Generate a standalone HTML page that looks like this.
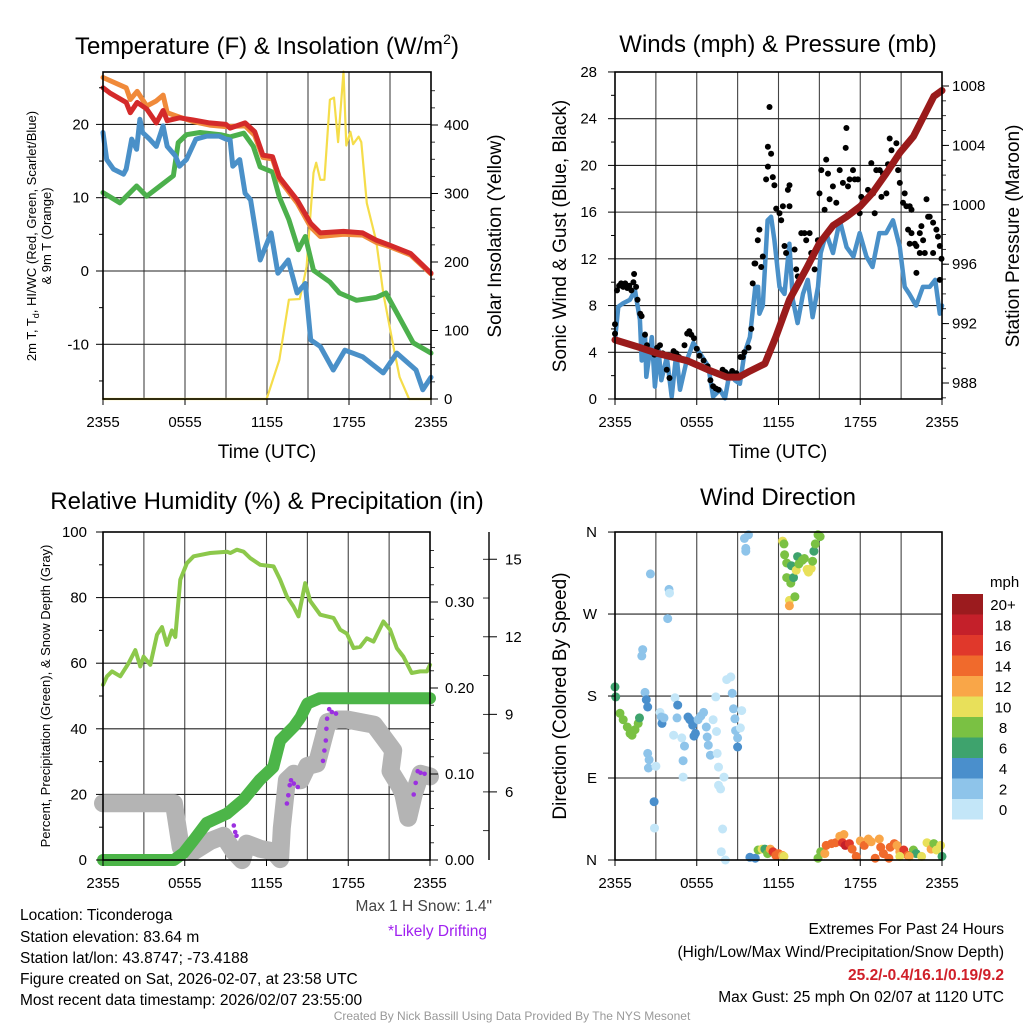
<!DOCTYPE html>
<html><head><meta charset="utf-8"><title>Ticonderoga Meteogram</title>
<style>
html,body{margin:0;padding:0;background:#fff;}
svg{display:block;font-family:"Liberation Sans",sans-serif;}
</style></head>
<body>
<svg id="chart" width="1024" height="1024" viewBox="0 0 1024 1024" xmlns="http://www.w3.org/2000/svg">
<rect width="1024" height="1024" fill="#fff"/>
<g id="grids"></g>
<g id="marks"></g>
<g id="axes"></g>
<g font-size="24" text-anchor="middle" fill="#000">
<text x="267" y="54">Temperature (F) &amp; Insolation (W/m<tspan font-size="14" dy="-10">2</tspan><tspan dy="10">)</tspan></text>
<text x="778" y="52">Winds (mph) &amp; Pressure (mb)</text>
<text x="267" y="509">Relative Humidity (%) &amp; Precipitation (in)</text>
<text x="778" y="505">Wind Direction</text>
</g>
<g font-size="19" text-anchor="middle">
<text x="267" y="458">Time (UTC)</text>
<text x="778" y="458">Time (UTC)</text>
<text transform="translate(501,236) rotate(-90)">Solar Insolation (Yellow)</text>
<text transform="translate(566,236) rotate(-90)">Sonic Wind &amp; Gust (Blue, Black)</text>
<text transform="translate(1019,236) rotate(-90)">Station Pressure (Maroon)</text>
<text transform="translate(566,696) rotate(-90)">Direction (Colored By Speed)</text>
</g>
<g font-size="13" text-anchor="middle">
<text transform="translate(36,236) rotate(-90)">2m T, T<tspan font-size="9" dy="3">d</tspan><tspan dy="-3">, HI/WC (Red, Green, Scarlet/Blue)</tspan></text>
<text transform="translate(51,236) rotate(-90)">&amp; 9m T (Orange)</text>
<text transform="translate(50,696) rotate(-90)">Percent, Precipitation (Green), &amp; Snow Depth (Gray)</text>
</g>
<g font-size="15.5" fill="#000">
<text x="20" y="920">Location: Ticonderoga</text>
<text x="20" y="942">Station elevation: 83.64 m</text>
<text x="20" y="963">Station lat/lon: 43.8747; -73.4188</text>
<text x="20" y="984">Figure created on Sat, 2026-02-07, at 23:58 UTC</text>
<text x="20" y="1005">Most recent data timestamp: 2026/02/07 23:55:00</text>
<text x="492" y="911" text-anchor="end" fill="#444">Max 1 H Snow: 1.4"</text>
<text x="487" y="936" text-anchor="end" fill="#a020f0">*Likely Drifting</text>
<text x="1004" y="934" text-anchor="end">Extremes For Past 24 Hours</text>
<text x="1004" y="957" text-anchor="end">(High/Low/Max Wind/Precipitation/Snow Depth)</text>
<text x="1004" y="980" text-anchor="end" fill="#d0202a" font-weight="bold">25.2/-0.4/16.1/0.19/9.2</text>
<text x="1004" y="1002" text-anchor="end">Max Gust: 25 mph On 02/07 at 1120 UTC</text>
<text x="512" y="1020" text-anchor="middle" font-size="12" fill="#999">Created By Nick Bassill Using Data Provided By The NYS Mesonet</text>
</g>
</svg>
<script>
// ---------- Temperature panel data ----------
const redT = [0,0.5,1.7,2.0,2.5,3.2,3.9,4.4,4.7,5.6,6.6,7.8,9.0,9.3,10.4,11.1,11.7,12.4,12.9,14.2,15.2,15.9,17.6,19.0,20.0,21.0,22.5,24];
const redV = [25,24.3,23,21.6,23,22.1,20.2,21.9,20.5,20.9,20.6,20.2,20,19.5,20.2,19,15.8,15.6,12.8,9.7,6.5,5.2,5.4,5.2,4.2,3.5,2.4,-0.3];
const orangeT = [0,1.7,2.0,2.5,3.2,3.9,4.4,4.7,5.6,6.6,7.8,9.0,10.4,11.1,11.7,12.4,12.9,14.2,15.2,15.9,17.6,19.0,20.0,21.0,22.5,24];
const orangeV = [26.4,25,23.4,24.5,22.5,23.2,24,21.6,21,20.4,19.9,19.7,19.8,18.5,15.5,15.3,12.5,9.3,6.0,4.7,5.0,4.9,3.9,3.3,2.2,-0.4];
const greenT = [0,1.24,2.46,3.2,4.17,5.15,5.5,6.1,7.1,8.6,9.3,10.3,11.0,11.5,12.4,12.9,13.6,14.3,14.8,15.4,16.6,17.3,18.55,20.0,20.7,21.5,22.7,24];
const greenV = [10.7,9.3,11.6,10.2,11.6,13,17.5,18.6,18.9,18.6,18.3,18.8,17,14.2,13.5,10.1,7,2.9,4.7,0.1,-1.5,-3,-4,-3.6,-3,-5.7,-9.8,-11.2];
const blueT = [0,0.27,0.76,1.5,1.7,2.1,2.46,2.7,2.9,3.4,3.9,4.4,4.7,5.3,5.6,6.1,6.8,7.6,8.5,9.0,9.3,9.5,10.0,10.4,10.8,11.0,11.5,12.3,12.8,13.55,14.2,14.8,15.2,15.9,16.85,17.7,19.0,20.5,21.5,22.9,23.4,24];
const blueV = [18.9,15.2,13.9,13.2,13.9,18,16.6,20.7,18.9,18,17,19.8,17,15.7,14.3,15.2,18,18.4,18.4,18,17.9,14.3,15.2,10.6,9.7,7.4,1.5,5.2,-0.3,1.5,-3,-1.7,-9.4,-10.3,-13.5,-10.8,-11.7,-13.9,-11.2,-13.5,-16.2,-14.5];
const solarT = [0,11.97,12.9,13.6,14.4,14.9,15.4,15.6,15.9,16.2,16.6,16.9,17.2,17.6,17.8,18.1,18.3,18.7,18.9,19.3,20.0,20.5,21.2,21.7,22.4,24];
const solarV = [0,0,57,145,146,193,330,345,320,320,437,440,375,478,370,390,372,383,375,286,230,155,82,32,0,0];
const tempTicks = [-10,0,10,20];
const solarTicks = [0,100,200,300,400];
const timeLabels = ["2355","0555","1155","1755","2355"];

// ---------- Winds panel data ----------
const windT = [0,0.24,0.6,1.1,1.47,1.83,1.96,2.2,2.3,2.7,2.93,3.2,3.4,3.8,4.16,4.5,4.77,5.26,5.75,6.24,6.85,7.2,7.7,8.07,8.4,8.8,9.17,9.5,9.9,10.3,10.5,10.6,10.85,11.2,11.46,11.7,12.07,12.44,12.8,13.05,13.4,13.8,14.15,14.5,14.9,15.1,15.5,16.0,16.5,17.0,17.5,17.96,18.45,18.9,19.4,19.9,20.4,20.9,21.26,21.6,22.1,22.6,23.1,23.5,23.84,24];
const windV = [5.06,7.9,8.2,8.5,9.3,6.8,3.3,5.6,1.9,5.3,1.06,4.2,1.6,3.6,0.2,3.9,0.8,3.3,4.8,3.9,2.8,0.2,0.8,0.06,2.2,1.6,1.3,3.9,5.3,9.6,9.6,7.3,8,15.3,15.6,13.6,9.6,9,13.3,8.5,6.5,9,10.2,7,9.6,12.5,14.2,12.5,15.3,13,12.2,14.2,12.2,11.3,14.2,14.2,15.3,13,9.6,9,8,9.6,9.6,10.2,7.3,8];
const gustT = [0,0,0.15,0.3,0.45,0.6,0.75,0.9,1.05,1.2,1.35,1.4,1.55,1.65,1.85,1.95,2.2,2.35,2.6,2.9,3.1,3.3,3.5,3.8,4.0,4.3,4.5,4.7,5.1,5.3,5.45,5.6,5.8,6.0,6.2,6.5,6.8,7.0,7.2,7.4,7.6,7.9,8.1,8.3,8.6,8.9,9.2,9.38,9.5,9.8,10.0,10.11,10.24,10.3,10.48,10.6,10.73,10.85,11.09,11.22,11.22,11.34,11.46,11.58,11.7,11.83,12.07,12.2,12.32,12.44,12.56,12.69,12.81,12.81,13.18,13.3,13.42,13.67,13.91,14.03,14.28,14.4,14.65,14.89,15.01,15.14,15.38,15.5,15.63,15.75,15.99,16.24,16.49,16.73,16.98,16.93,17.1,17.22,17.47,17.59,17.83,17.96,18.08,18.32,18.57,18.81,18.94,19.06,19.18,19.43,19.55,19.67,19.92,20.04,20.16,20.29,20.41,20.65,20.78,20.9,21.14,21.26,21.39,21.63,21.76,21.51,21.63,21.76,22.0,22.12,22.37,22.49,22.61,22.74,22.86,22.98,23.1,23.35,23.35,23.59,23.71,23.84,23.96,23.84,22.12,22.37];
const gustV = [6.4,5.6,9.3,9.7,9.9,9.6,9.9,9.5,9.7,9.3,10.0,10.7,9.6,8.5,7.3,7.1,5.5,4.6,4.1,3.8,4.4,4.6,3.9,2.5,1.8,4.1,3.9,3.6,4.6,5.6,5.8,5.5,5.2,4.3,3.7,3.3,2.8,1.6,1.1,0.9,0.8,2.5,2.3,2.1,2.4,2.2,3.6,3.6,4.0,4.4,6.0,9.9,11.6,11.6,13.6,14.5,11.3,12.2,18.8,19.9,21.6,25.0,21.0,19.0,18.3,16.3,15.9,15.3,16.5,13.1,12.5,17.9,18.3,16.5,12.8,11.1,10.5,14.2,14.2,13.6,14.2,12.5,11.1,13.6,17.6,19.6,16.2,20.5,19.3,17.1,18.2,16.8,19.6,18.5,23.2,21.5,18.2,18.8,19.6,18.8,18.8,15.9,17.3,17.1,17.9,20.2,17.6,15.9,19.6,19.6,17.3,19.3,17.6,20.1,22.3,21.3,20.1,21.9,19.6,18.5,16.8,17.6,16.5,16.5,16.2,14.5,13.3,14.2,13.3,13.1,14.2,14.8,13.6,12.5,17.1,15.6,15.6,15.1,12.5,14.5,13.9,13.1,12.0,10.2,10.8,12.5];
const presT = [0,1.8,3.1,5.3,6.8,8.2,9.1,9.9,11.0,11.8,12.8,14.1,15.0,16.0,17.0,18.0,18.9,19.9,20.9,21.9,22.9,23.4,24];
const presV = [990.9,990.4,990.0,989.5,988.9,988.4,988.4,988.8,989.3,991.1,993.6,995.8,997.4,998.6,999.2,999.9,1000.8,1002.1,1003.5,1004.6,1006.4,1007.3,1007.7];
const windTicks = [0,4,8,12,16,20,24,28];
const presTicks = [988,992,996,1000,1004,1008];

// ---------- Humidity panel data ----------
const rhT = [0,0.29,0.66,1.27,1.88,2.37,2.74,2.98,3.47,3.96,4.33,4.69,5.06,5.31,5.67,6.16,6.65,7.87,9.1,9.35,9.83,10.32,10.81,11.54,12.52,13.0,13.49,13.98,14.35,14.84,15.21,15.94,16.92,17.41,17.9,18.39,18.88,19.36,19.85,20.58,21.07,21.56,22.05,22.66,23.28,23.77,24];
const rhV = [53.4,56,57.5,56,60,64,59,62,59.5,68.7,71,65.6,70,68,85.5,90.5,92.6,93.6,94,93.6,94.6,94,92,90,89.5,85.5,80.4,77.3,74.3,84.4,79,74.8,73.8,70.2,69,64.6,65,67.6,66.6,72.7,70.2,64.6,62,57,57.5,57.5,59.5];
const precT = [0,5.2,5.9,6.65,7.6,9.1,10.3,11.5,12.5,13.0,14.0,14.5,15.0,15.9,24];
const precV = [0,0,0.008,0.023,0.043,0.054,0.07,0.093,0.108,0.139,0.155,0.166,0.182,0.188,0.188];
const snowT = [0,5.2,5.7,6.65,7.87,8.85,9.6,10.2,10.55,11.54,12.52,13.0,13.12,13.5,14.0,14.5,15.0,15.7,16.2,16.5,17.2,17.9,18.9,19.9,20.6,21.3,21.1,21.8,22.05,22.4,22.8,23.3,24];
const snowV = [5.56,5.56,3.86,3.7,4.1,4.3,3.7,3.36,4.0,3.8,3.7,3.4,4.6,6.45,6.7,6.45,7.0,7.1,8.1,8.7,8.8,8.8,8.7,8.6,8.1,7.6,6.8,6.2,5.9,5.0,5.9,6.7,6.6];
const driftT = [9.6,9.7,9.8,13.5,13.6,13.7,13.8,14.0,14.3,16.15,16.25,16.35,16.4,16.45,16.6,16.8,17.1,22.8,22.95,23.1,23.3,23.6];
const driftV = [4.7,4.45,4.3,5.55,5.87,6.26,6.45,6.32,6.19,7.2,7.6,7.99,8.44,8.83,9.2,9.09,9.03,5.9,6.35,6.8,6.74,6.7];
const rhTicks = [0,20,40,60,80,100];
const precTicks = [0,0.1,0.2,0.3];
const snowTicks = [6,9,12,15];

// ---------- Wind direction panel data ----------
const dirT = [0,0.05,0.37,0.6,0.9,1.1,1.25,1.47,1.7,1.8,2.6,3.96,4.0,3.87,2.03,1.97,2.2,2.3,2.4,3.3,3.4,3.45,3.6,4.4,4.6,4.55,4.3,4.9,5.1,5.0,5.0,2.4,2.5,2.45,3.0,2.87,2.9,5.36,5.5,5.7,5.9,5.8,6.1,6.5,6.3,6.7,6.77,6.85,7.0,7.2,7.4,7.45,7.5,7.6,8.0,7.6,7.75,7.9,7.8,8.1,8.2,8.5,8.6,8.7,8.8,8.85,9.0,9.0,9.3,9.2,9.5,9.8,9.6,9.6,12.3,12.4,12.45,12.6,12.6,12.8,12.8,12.9,12.95,13.1,13.2,13.3,13.4,13.5,13.75,13.9,14.2,14.1,14.4,14.5,14.6,14.7,14.9,15.05,9.9,10.3,10.5,10.8,11.0,11.2,11.4,11.6,11.8,12.0,12.3,12.4,14.9,15.1,15.4,15.5,15.9,16.2,16.5,16.8,16.7,16.9,17.2,17.4,17.7,18.0,18.3,18.6,18.8,19.1,19.4,19.5,19.7,20.1,20.2,20.5,20.7,20.9,21.2,21.5,21.9,22.1,22.5,22.9,23.2,23.4,23.6,23.9,24,20.9,21.6];
const dirV = [190,179,161,154,146,139,137,143,150,156,314,297,293,265,231,224,184,176,168,162,157,150,156,178,170,156,137,134,125,109,91,117,110,101,103,64,35,157,154,148,139,136,154,162,158,146,135,126,115,154,179,141,117,102,91,82,78,34,9,0,198,201,183,166,155,142,134,124,164,145,353,357,342,339,350,347,335,326,310,285,279,304,323,310,289,318,333,325,329,331,316,319,320,328,339,347,357,355,3,2,11,12,12,7,12,9,5,7,5,4,2,9,7,16,18,19,26,28,19,16,18,12,4,21,16,23,20,2,23,14,7,2,14,18,16,9,11,5,11,7,4,19,12,18,11,16,4,4,4];
const dirS = [6,6,8,8,8,8,8,8,8,6,2,2,0,2,2,2,2,4,4,0,2,4,2,0,4,2,0,0,2,2,0,2,2,2,0,4,0,4,4,4,4,4,2,2,2,2,2,2,2,0,0,0,0,0,0,0,0,0,0,0,0,0,2,2,2,2,2,4,0,0,2,2,2,2,10,8,8,8,8,10,12,8,6,6,8,10,6,8,8,8,10,10,10,8,6,8,8,8,4,4,8,10,6,8,12,16,14,14,12,10,8,8,12,14,14,14,12,12,16,18,16,14,14,12,14,12,12,14,12,14,14,14,14,14,12,12,16,14,8,6,10,10,12,8,10,10,6,10,12];
const speedBins = [0,2,4,6,8,10,12,14,16,18,20];
const binLabels = ["0","2","4","6","8","10","12","14","16","18","20+"];
const binColors = ["#c3e6f8","#8ec4ea","#4a8fcc","#3ea36d","#7ac143","#e8e05a","#f9a648","#f06a2c","#e0382b","#c4202a","#9b1b1e"];
const dirTicks = [0,90,180,270,360];
const dirLabels = ["N","E","S","W","N"];

// ---------- scales ----------
const NS = "http://www.w3.org/2000/svg";
const P1 = {x0:103, x1:431, y0:72, y1:399};
const P2 = {x0:615, x1:942, y0:72, y1:399};
const P3 = {x0:103, x1:430, y0:532, y1:860};
const P4 = {x0:615, x1:942, y0:532, y1:860};
const hx = (P, h) => P.x0 + h * (P.x1 - P.x0) / 24;
const yTemp = v => 271 - v * 7.33;
const ySolar = w => 399 - w * 0.685;
const yWind = m => 399 - m * 11.68;
const yPres = mb => 383 - (mb - 988) * 14.85;
const yRH = p => 860 - p * 3.28;
const yPrec = v => 860 - v * 860;
const ySnow = s => 947 - s * 25.85;
const yDir = d => 860 - d * 0.911;

const grids = document.getElementById('grids');
const marks = document.getElementById('marks');
const axes = document.getElementById('axes');

function mk(tag, attrs, parent) {
  const el = document.createElementNS(NS, tag);
  for (const k in attrs) el.setAttribute(k, attrs[k]);
  parent.appendChild(el);
  return el;
}
function seg(parent, x1, y1, x2, y2, stroke, w, name) {
  const el = mk('line', {x1:x1, y1:y1, x2:x2, y2:y2, stroke:stroke, 'stroke-width':w}, parent);
  
  
  return el;
}
function txt(parent, x, y, s, anchor, size, name) {
  const el = mk('text', {x:x, y:y, 'text-anchor':anchor, 'font-size':size}, parent);
  el.textContent = s;
  
  
  return el;
}
function series(P, ts, vs, yf, color, w, name) {
  const d = ts.map((t, i) => (i ? 'L' : 'M') + hx(P, t).toFixed(1) + ' ' + yf(vs[i]).toFixed(1)).join(' ');
  const el = mk('path', {d:d, fill:'none', stroke:color, 'stroke-width':w, 'stroke-linejoin':'round', 'stroke-linecap':'round'}, marks);
  
  
  return el;
}
function dots(P, ts, vs, yf, r, colorFn, name) {
  ts.forEach((t, i) => {
    const el = mk('circle', {cx:hx(P, t).toFixed(1), cy:yf(vs[i]).toFixed(1), r:r, fill:colorFn(i)}, marks);
    
    
  });
}
function frame(P, name) {
  const el = mk('rect', {x:P.x0, y:P.y0, width:P.x1 - P.x0, height:P.y1 - P.y0, fill:'none', stroke:'#000', 'stroke-width':1.6}, axes);
  
  
}
function timeAxis(P, prefix) {
  for (let h = 3; h < 24; h += 3) seg(grids, hx(P, h), P.y0, hx(P, h), P.y1, '#444', 1.1, prefix + '-vertical-gridline');
  timeLabels.forEach((s, i) => {
    const x = hx(P, i * 6);
    seg(axes, x, P.y1, x, P.y1 + 6, '#000', 1, prefix + '-x-tick');
    txt(axes, x, P.y1 + 28, s, 'middle', 15, prefix + '-x-tick-label');
  });
}

// ---------- Panel 1 ----------
timeAxis(P1, 'temperature');
tempTicks.forEach(v => {
  seg(grids, P1.x0, yTemp(v), P1.x1, yTemp(v), '#222', 1.1, 'temperature-horizontal-gridline');
  seg(axes, P1.x0 - 7, yTemp(v), P1.x0, yTemp(v), '#000', 1, 'temperature-y-tick');
  txt(axes, P1.x0 - 14, yTemp(v) + 5, String(v), 'end', 15, 'temperature-y-tick-label');
});
[-15,-5,5,15,25].forEach(v => seg(axes, P1.x0 - 4, yTemp(v), P1.x0, yTemp(v), '#000', 1, 'temperature-minor-tick'));
solarTicks.forEach(v => {
  seg(axes, P1.x1, ySolar(v), P1.x1 + 7, ySolar(v), '#000', 1, 'solar-y-tick');
  txt(axes, P1.x1 + 13, ySolar(v) + 5, String(v), 'start', 15, 'solar-y-tick-label');
});
for (let v = 0; v <= 460; v += 25) seg(axes, P1.x1, ySolar(v), P1.x1 + 4, ySolar(v), '#000', 0.8, 'solar-minor-tick');
frame(P1, 'temperature-plot-frame');
series(P1, solarT, solarV, ySolar, '#f5dd4a', 2.2, 'solar-insolation-line');
series(P1, greenT, greenV, yTemp, '#4cb04c', 5, 'dewpoint-line');
series(P1, orangeT, orangeV, yTemp, '#f08a3a', 5, 'temperature-9m-line');
series(P1, redT, redV, yTemp, '#d42a2a', 5, 'temperature-2m-line');
series(P1, blueT, blueV, yTemp, '#4a90c8', 5, 'wind-chill-line');

// ---------- Panel 2 ----------
timeAxis(P2, 'winds');
windTicks.forEach(v => {
  if (v > 0 && v < 28) seg(grids, P2.x0, yWind(v), P2.x1, yWind(v), '#222', 1.1, 'winds-horizontal-gridline');
  seg(axes, P2.x0 - 7, yWind(v), P2.x0, yWind(v), '#000', 1, 'winds-y-tick');
  txt(axes, P2.x0 - 18, yWind(v) + 5, String(v), 'end', 15, 'winds-y-tick-label');
});
for (let v = 2; v < 28; v += 4) seg(axes, P2.x0 - 4, yWind(v), P2.x0, yWind(v), '#000', 1, 'winds-minor-tick');
presTicks.forEach(v => {
  seg(axes, P2.x1, yPres(v), P2.x1 + 7, yPres(v), '#000', 1, 'pressure-y-tick');
  txt(axes, P2.x1 + 10, yPres(v) + 5, String(v), 'start', 15, 'pressure-y-tick-label');
});
for (let v = 987; v <= 1008; v += 1) seg(axes, P2.x1, yPres(v), P2.x1 + 4, yPres(v), '#000', 0.8, 'pressure-minor-tick');
frame(P2, 'winds-plot-frame');
series(P2, windT, windV, yWind, '#4a90c8', 4.5, 'sonic-wind-line');
dots(P2, gustT, gustV, yWind, 3, () => '#000', 'gust-point');
series(P2, presT, presV, yPres, '#9a1b1b', 7, 'station-pressure-line');

// ---------- Panel 3 ----------
timeAxis(P3, 'humidity');
rhTicks.forEach(v => {
  if (v > 0 && v < 100) seg(grids, P3.x0, yRH(v), P3.x1, yRH(v), '#222', 1.1, 'humidity-horizontal-gridline');
  seg(axes, P3.x0 - 7, yRH(v), P3.x0, yRH(v), '#000', 1, 'humidity-y-tick');
  txt(axes, P3.x0 - 16, yRH(v) + 5, String(v), 'end', 15, 'humidity-y-tick-label');
});
for (let v = 10; v < 100; v += 20) seg(axes, P3.x0 - 4, yRH(v), P3.x0, yRH(v), '#000', 1, 'humidity-minor-tick');
precTicks.forEach(v => {
  seg(axes, P3.x1, yPrec(v), P3.x1 + 8, yPrec(v), '#000', 1, 'precip-y-tick');
  txt(axes, P3.x1 + 15, yPrec(v) + 5, v.toFixed(2), 'start', 15, 'precip-y-tick-label');
});
for (let v = 0.02; v < 0.38; v += 0.02) seg(axes, P3.x1, yPrec(v), P3.x1 + 4, yPrec(v), '#000', 0.8, 'precip-minor-tick');
seg(axes, 489, 532, 489, 860, '#000', 1.4, 'snow-axis-line');
snowTicks.forEach(v => {
  seg(axes, 489, ySnow(v), 497, ySnow(v), '#000', 1, 'snow-y-tick');
  txt(axes, 505, ySnow(v) + 5, String(v), 'start', 15, 'snow-y-tick-label');
});
for (let v = 4.5; v <= 15.5; v += 1.5) seg(axes, 483, ySnow(v), 489, ySnow(v), '#000', 0.8, 'snow-minor-tick');
frame(P3, 'humidity-plot-frame');
series(P3, snowT, snowV, ySnow, '#b4b4b4', 18, 'snow-depth-line');
series(P3, precT, precV, yPrec, '#4cb548', 12, 'precipitation-line');
series(P3, rhT, rhV, yRH, '#8cc84b', 4, 'relative-humidity-line');
dots(P3, driftT, driftV, ySnow, 2.3, () => '#9b30e0', 'drifting-point');

// ---------- Panel 4 ----------
timeAxis(P4, 'direction');
dirTicks.forEach((v, i) => {
  if (v > 0 && v < 360) seg(grids, P4.x0, yDir(v), P4.x1, yDir(v), '#222', 1.1, 'direction-horizontal-gridline');
  seg(axes, P4.x0 - 7, yDir(v), P4.x0, yDir(v), '#000', 1, 'direction-y-tick');
  txt(axes, P4.x0 - 18, yDir(v) + 5, dirLabels[i], 'end', 15, 'direction-y-tick-label');
});
frame(P4, 'direction-plot-frame');
const binIndex = s => Math.min(10, Math.max(0, Math.round(s / 2)));
dots(P4, dirT, dirV, yDir, 4.5, i => binColors[binIndex(dirS[i])], 'wind-direction-point');

// colorbar
const cb = mk('g', {}, axes);


txt(cb, 990, 587, 'mph', 'start', 15, 'colorbar-title');
speedBins.forEach((s, i) => {
  const k = speedBins.length - 1 - i;
  const y = 594 + k * 20.5;
  const r = mk('rect', {x:952, y:y, width:31, height:20.5, fill:binColors[i]}, cb);
  
  
  txt(cb, 1003, y + 16, binLabels[i], 'middle', 15, 'colorbar-label');
});
</script>
</body></html>
